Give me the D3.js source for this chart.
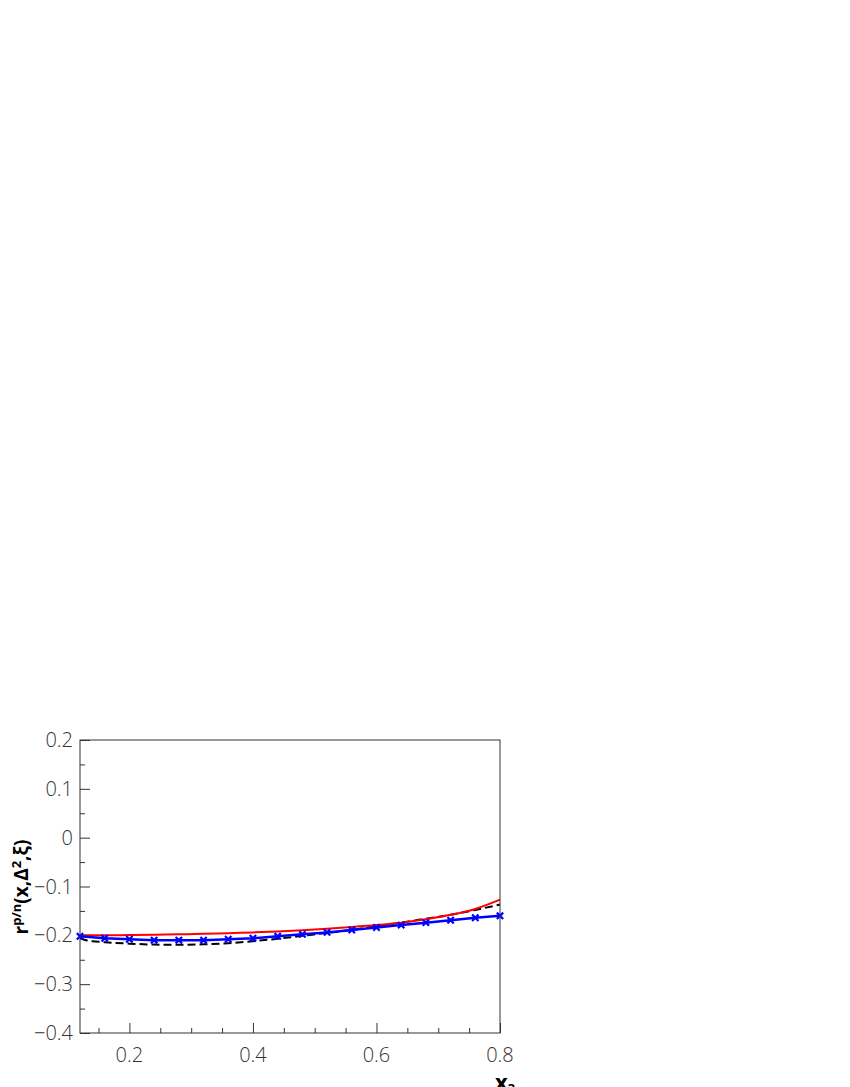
<!DOCTYPE html>
<meta charset="utf-8">
<head>
<style>
body { margin: 0; background: #fff; }
.tick-label { font-family: "Open Sans", sans-serif; font-weight: 300; font-size: 20px; fill: #333; }
.axis-title { font-family: "Open Sans", sans-serif; font-weight: bold; fill: #000; }
</style>
<script src="https://d3js.org/d3.v7.min.js"></script>
</head>
<body>
<script>

// x positions (x_3)
var xValues = [0.12, 0.16, 0.20, 0.24, 0.28, 0.32, 0.36, 0.40, 0.44, 0.48,
               0.52, 0.56, 0.60, 0.64, 0.68, 0.72, 0.76, 0.80];

// red solid curve
var redValues = [-0.200, -0.200, -0.1995, -0.199, -0.198, -0.197, -0.1955, -0.194, -0.192, -0.1895,
                 -0.1865, -0.183, -0.179, -0.174, -0.167, -0.158, -0.146, -0.127];

// black dashed curve
var blackX = [0.12, 0.13, 0.14, 0.16, 0.20, 0.24, 0.28, 0.32, 0.36, 0.40, 0.44, 0.48,
              0.52, 0.56, 0.60, 0.64, 0.68, 0.72, 0.76, 0.80];
var blackValues = [-0.206, -0.210, -0.212, -0.214, -0.217, -0.219, -0.2195, -0.2185, -0.216, -0.212, -0.207, -0.201,
                   -0.195, -0.189, -0.181, -0.174, -0.166, -0.158, -0.148, -0.137];

// blue line with crosses
var blueValues = [-0.202, -0.206, -0.208, -0.210, -0.210, -0.210, -0.208, -0.206, -0.202, -0.198,
                  -0.194, -0.189, -0.184, -0.179, -0.174, -0.169, -0.164, -0.160];

var xMajorTicks = [0.2, 0.4, 0.6, 0.8];
var xMinorTicks = [0.15, 0.25, 0.3, 0.35, 0.45, 0.5, 0.55, 0.65, 0.7, 0.75];
var yMajorTicks = [-0.4, -0.3, -0.2, -0.1, 0, 0.1, 0.2];
var yMinorTicks = [-0.35, -0.25, -0.15, -0.05, 0.05, 0.15];

// plot frame
var frameLeft = 80, frameTop = 740, frameRight = 500, frameBottom = 1033;

var svg = d3.select("body").append("svg")
    .attr("width", 850)
    .attr("height", 1087);

var x = d3.scaleLinear().domain([0.12, 0.8]).range([frameLeft, frameRight]);
var y = d3.scaleLinear().domain([-0.4, 0.2]).range([frameBottom, frameTop]);

// x axis ticks (pointing up into the frame)
svg.append("g")
    .attr("transform", "translate(0," + frameBottom + ")")
    .call(d3.axisTop(x).tickValues(xMajorTicks).tickSize(10).tickFormat(""))
    .call(g => g.select(".domain").remove())
    .call(g => g.selectAll("line").attr("stroke", "#333"));
svg.append("g")
    .attr("transform", "translate(0," + frameBottom + ")")
    .call(d3.axisTop(x).tickValues(xMinorTicks).tickSize(5).tickFormat(""))
    .call(g => g.select(".domain").remove())
    .call(g => g.selectAll("line").attr("stroke", "#333"));

// y axis ticks (pointing right into the frame)
svg.append("g")
    .attr("transform", "translate(" + frameLeft + ",0)")
    .call(d3.axisRight(y).tickValues(yMajorTicks).tickSize(10).tickFormat(""))
    .call(g => g.select(".domain").remove())
    .call(g => g.selectAll("line").attr("stroke", "#333"));
svg.append("g")
    .attr("transform", "translate(" + frameLeft + ",0)")
    .call(d3.axisRight(y).tickValues(yMinorTicks).tickSize(5).tickFormat(""))
    .call(g => g.select(".domain").remove())
    .call(g => g.selectAll("line").attr("stroke", "#333"));

// tick labels
var fmt = function(d) {
  if (Math.abs(d) < 1e-9) return "0";
  return d3.format(".1f")(d).replace("-", "\u2212");
};
svg.selectAll(".xl").data(xMajorTicks).enter().append("text")
    .attr("class", "tick-label")
    .attr("x", d => x(d))
    .attr("y", frameBottom + 29)
    .attr("text-anchor", "middle")
    .text(fmt);
svg.selectAll(".yl").data(yMajorTicks).enter().append("text")
    .attr("class", "tick-label")
    .attr("x", frameLeft - 7)
    .attr("y", d => y(d) + 7)
    .attr("text-anchor", "end")
    .text(fmt);

// curves
var line = d3.line().curve(d3.curveMonotoneX).x(d => x(d[0])).y(d => y(d[1]));

svg.append("path")
    .datum(d3.zip(blackX, blackValues))
    .attr("d", line)
    .attr("fill", "none")
    .attr("stroke", "#000")
    .attr("stroke-width", 2)
    .attr("stroke-dasharray", "8,4");

svg.append("path")
    .datum(d3.zip(xValues, redValues))
    .attr("d", line)
    .attr("fill", "none")
    .attr("stroke", "#ff0000")
    .attr("stroke-width", 2);

var bluePts = d3.zip(xValues, blueValues);
svg.append("path")
    .datum(bluePts)
    .attr("d", d3.line().x(d => x(d[0])).y(d => y(d[1])))
    .attr("fill", "none")
    .attr("stroke", "#0000ff")
    .attr("stroke-width", 2.5);

svg.selectAll(".cross").data(bluePts).enter().append("path")
    .attr("d", d3.symbol().type(d3.symbolX).size(28))
    .attr("transform", d => "translate(" + x(d[0]) + "," + y(d[1]) + ")")
    .attr("fill", "none")
    .attr("stroke", "#0000ff")
    .attr("stroke-width", 2.2);

// frame
svg.append("rect")
    .attr("x", frameLeft)
    .attr("y", frameTop)
    .attr("width", frameRight - frameLeft)
    .attr("height", frameBottom - frameTop)
    .attr("fill", "none")
    .attr("stroke", "#333")
    .attr("stroke-width", 1);

// axis titles
var yt = svg.append("text")
    .attr("class", "axis-title")
    .attr("transform", "translate(28,887) rotate(-90)")
    .attr("text-anchor", "middle")
    .attr("font-size", 19);
yt.append("tspan").text("r");
yt.append("tspan").attr("dy", -7).attr("font-size", 13).text("p/n");
yt.append("tspan").attr("dy", 7).text("(x,\u0394");
yt.append("tspan").attr("dy", -7).attr("font-size", 13).text("2");
yt.append("tspan").attr("dy", 7).text(",\u03be)");

var xt = svg.append("text")
    .attr("class", "axis-title")
    .attr("x", 495)
    .attr("y", 1090)
    .attr("font-size", 22);
xt.append("tspan").text("x");
xt.append("tspan").attr("dy", 3).attr("font-size", 13).text("3");

</script>
</body>
</html>
